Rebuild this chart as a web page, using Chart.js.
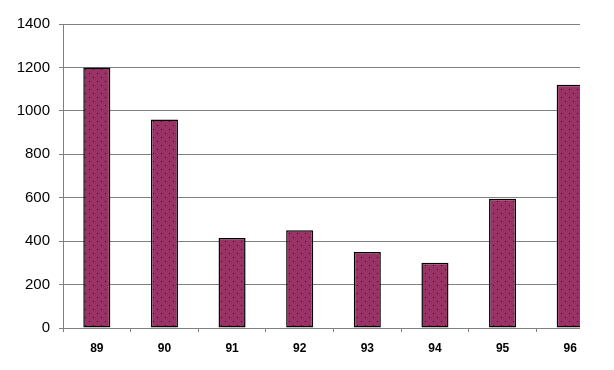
<!DOCTYPE html>
<html lang="en">
<head>
    <meta charset="UTF-8" />
    <title>Bar chart 89-96</title>
    <script src="https://cdn.jsdelivr.net/npm/chart.js"></script>
    <style>
        body {
            margin: 0;
            padding: 0;
            background-color: #fff;
        }

        /* the original picture is cut off just after the last bar */
        .chart-wrap {
            width: 580px;
            height: 370px;
            overflow: hidden;
        }
    </style>
</head>
<body>
    <div class="chart-wrap">
        <canvas id="myChart" width="614" height="370"></canvas>
    </div>

    <script>
        // chart data
        const years = ["89", "90", "91", "92", "93", "94", "95", "96"];
        const values = [1200, 960, 415, 450, 350, 300, 595, 1120];
        const yMin = 0;
        const yMax = 1400;
        const yStep = 200;

        // dotted fill like the old spreadsheet pattern
        function makePattern() {
            const tile = document.createElement("canvas");
            tile.width = 8;
            tile.height = 8;
            const t = tile.getContext("2d");
            t.fillStyle = "#993366";
            t.fillRect(0, 0, 8, 8);
            t.fillStyle = "#3a0a24";
            t.fillRect(1, 1, 1, 1);
            t.fillRect(5, 5, 1, 1);
            return t.createPattern(tile, "repeat");
        }

        const ctx = document.getElementById("myChart").getContext("2d");
        const barFill = makePattern();

        new Chart(ctx, {
            type: "bar",
            data: {
                labels: years,
                datasets: [
                    {
                        data: values,
                        backgroundColor: barFill,
                        borderColor: "#000",
                        borderWidth: 1.5,
                        borderSkipped: false,
                        categoryPercentage: 1.0,
                        barPercentage: 0.4,
                    },
                ],
            },
            options: {
                responsive: false,
                animation: false,
                layout: {
                    padding: { top: 24, right: 10, bottom: 0, left: 0 },
                },
                plugins: {
                    legend: { display: false },
                    tooltip: { enabled: false },
                },
                scales: {
                    x: {
                        grid: {
                            display: true,
                            drawOnChartArea: false,
                            drawTicks: true,
                            tickLength: 4,
                            color: "#808080",
                            offset: true,
                        },
                        border: { color: "#808080" },
                        ticks: {
                            color: "#000",
                            padding: 9,
                            font: { family: "'Liberation Sans', Arial, sans-serif", size: 12, weight: "bold" },
                        },
                        afterFit: (scale) => {
                            scale.height = 42;
                        },
                    },
                    y: {
                        min: yMin,
                        max: yMax,
                        grid: {
                            color: "#808080",
                            tickLength: 4,
                        },
                        border: { color: "#808080" },
                        ticks: {
                            stepSize: yStep,
                            color: "#000",
                            padding: 9,
                            font: { family: "'Liberation Sans', Arial, sans-serif", size: 15 },
                            callback: (value) => String(value),
                        },
                        afterFit: (scale) => {
                            scale.width = 63;
                        },
                    },
                },
            },
        });
    </script>
</body>
</html>
